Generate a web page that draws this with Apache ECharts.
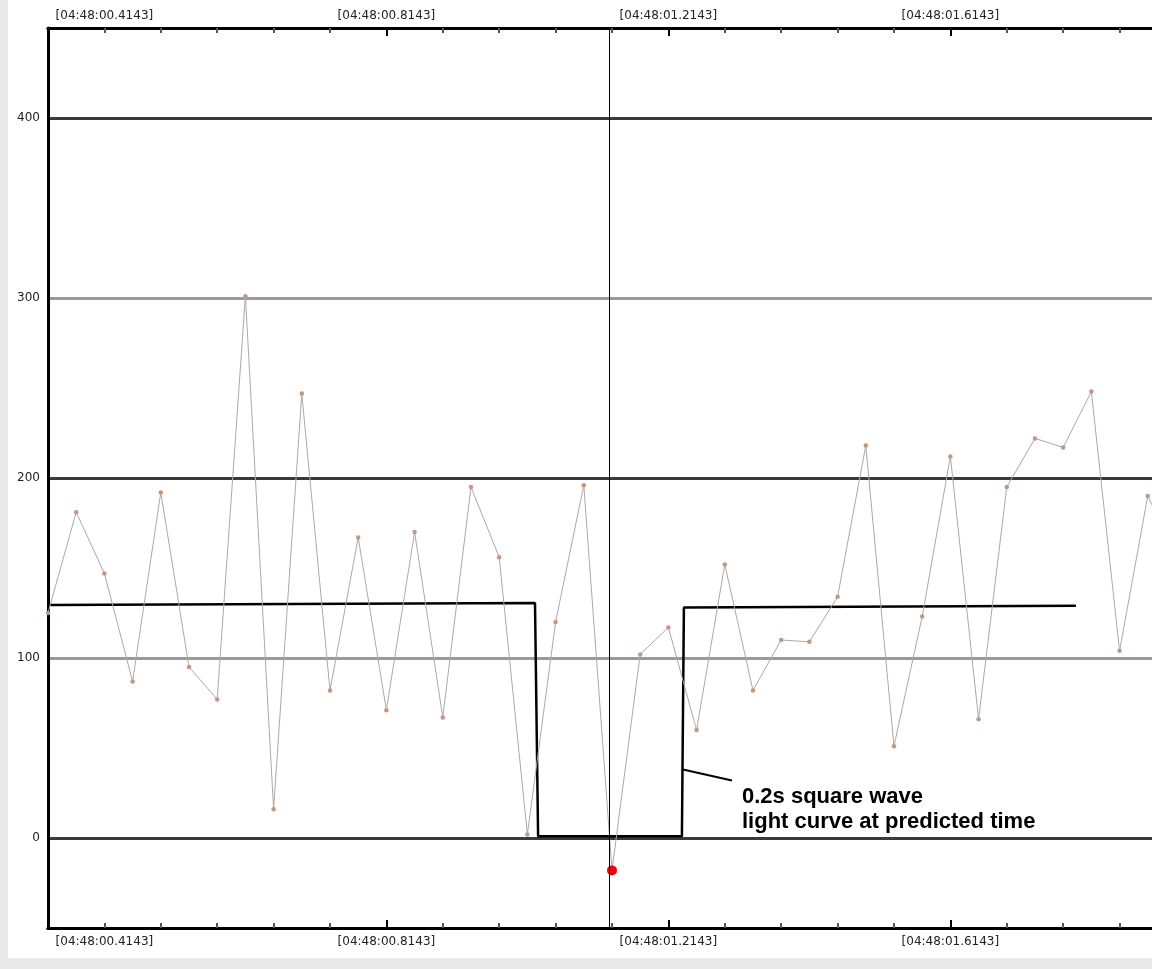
<!DOCTYPE html>
<html>
<head>
<meta charset="utf-8">
<script src="https://cdn.jsdelivr.net/npm/echarts@6/dist/echarts.min.js"></script>
<style>
html,body{margin:0;padding:0;background:#e9e9e9;}
#wrap{position:relative;width:1152px;height:969px;overflow:hidden;background:#e9e9e9;}
#panel{position:absolute;left:8px;top:0;width:1144px;height:958px;background:#ffffff;}
#chart{position:absolute;left:0;top:0;width:1152px;height:969px;}
</style>
</head>
<body>
<div id="wrap"><div id="panel"></div><div id="chart"></div></div>
<script>
// ---- data ----
const timePrefix = '04:48:';
const frameStart = 0.3343;   // seconds after 04:48:00 of the first frame
const frameStep = 0.04;      // frame spacing (s)
const intensity = [125, 181, 147, 87, 192, 95, 77, 301, 16, 247,
                   82, 167, 71, 170, 67, 195, 156, 2, 120, 196,
                   -18, 102, 117, 60, 152, 82, 110, 109, 134, 218,
                   51, 123, 212, 66, 195, 222, 217, 248, 104, 190,
                   157];
const highlightIndex = 20;
const predictedTime = 1.1343;
const squareWaveTimes  = [0.3343, 1.0251, 1.0295, 1.2335, 1.2363, 1.7923];
const squareWaveLevels = [129.5, 130.5, 1, 1, 128, 129];
const minorTickTimes = [0.4143, 0.4943, 0.5743, 0.6543, 0.7343, 0.8943, 0.9743, 1.0543, 1.1343,
                        1.2943, 1.3743, 1.4543, 1.5343, 1.6943, 1.7743, 1.8543];
const majorTickTimes = [0.8143, 1.2143, 1.6143];
const labelTimes = [0.4143, 0.8143, 1.2143, 1.6143];
const yTickValues = [0, 100, 200, 300, 400];
const noteLines = ['0.2s square wave', 'light curve at predicted time'];
const notePointer = [[1.235, 38], [1.3045, 32]];
const noteTextAt = [1.3187, 30];

// ---- chart ----
const xMin = 0.3343, xMax = 1.9003;
function fmtTime(v) {
  return '[' + timePrefix + (v < 10 ? '0' : '') + v.toFixed(4) + ']';
}
function xAxisDef(pos, ticks, len, tickColor, labels, margin) {
  return {
    type: 'value', position: pos, min: xMin, max: xMax, gridIndex: 0,
    axisLine: { show: true, onZero: false, lineStyle: { color: '#000', width: 3 } },
    axisTick: { show: true, inside: true, length: len, customValues: ticks,
                lineStyle: { color: tickColor, width: 2 } },
    axisLabel: { show: !!labels, customValues: labels || ticks, formatter: fmtTime, margin: margin,
                 color: '#222', fontFamily: 'DejaVu Sans', fontSize: 12 },
    splitLine: { show: false }
  };
}

const lineData = intensity.map((v, i) => {
  const t = +(frameStart + i * frameStep).toFixed(4);
  if (i === highlightIndex) {
    return { value: [t, v], symbolSize: 10, itemStyle: { color: '#e30b0b' } };
  }
  return [t, v];
});
const squareData = squareWaveTimes.map((t, i) => [t, squareWaveLevels[i]]);

const chart = echarts.init(document.getElementById('chart'), null, { renderer: 'canvas' });
chart.setOption({
  animation: false,
  backgroundColor: 'transparent',
  grid: { left: 48, top: 28, right: 0, height: 900, containLabel: false },
  xAxis: [
    xAxisDef('bottom', minorTickTimes, 5, '#555', null, 8),
    xAxisDef('bottom', majorTickTimes, 8, '#000', labelTimes, 8),
    xAxisDef('top', minorTickTimes, 5, '#555', null, 6),
    xAxisDef('top', majorTickTimes, 8, '#000', labelTimes, 6)
  ],
  yAxis: {
    type: 'value', min: -50, max: 450, interval: 50, position: 'left',
    axisLine: { show: true, onZero: false, lineStyle: { color: '#000', width: 3 } },
    axisTick: { show: false },
    axisLabel: { formatter: v => yTickValues.includes(v) ? String(v) : '', margin: 8,
                 color: '#222', fontFamily: 'DejaVu Sans', fontSize: 12 },
    splitLine: { show: true, lineStyle: {
      color: ['rgba(0,0,0,0)', '#3a3a3a', 'rgba(0,0,0,0)', '#9a9a9a'], width: 3 } }
  },
  series: [
    {
      type: 'line', xAxisIndex: 0, yAxisIndex: 0, data: squareData,
      symbol: 'none', lineStyle: { color: '#000', width: 2.5 }, z: 3,
      emphasis: { disabled: true }, silent: true
    },
    {
      type: 'line', xAxisIndex: 0, yAxisIndex: 0, data: lineData,
      symbol: 'circle', symbolSize: 4.5, showSymbol: true, showAllSymbol: true,
      lineStyle: { color: '#a9a9a9', width: 1 },
      itemStyle: { color: '#c4977f' },
      emphasis: { disabled: true }, silent: true, z: 4,
      markLine: {
        silent: true, symbol: ['none', 'none'], label: { show: false },
        lineStyle: { color: '#000', width: 1, type: 'solid' },
        emphasis: { disabled: true },
        data: [{ xAxis: predictedTime }]
      }
    }
  ]
});

const p0 = chart.convertToPixel({ xAxisIndex: 0, yAxisIndex: 0 }, notePointer[0]);
const p1 = chart.convertToPixel({ xAxisIndex: 0, yAxisIndex: 0 }, notePointer[1]);
const pt = chart.convertToPixel({ xAxisIndex: 0, yAxisIndex: 0 }, noteTextAt);
chart.setOption({
  graphic: [
    { type: 'line', shape: { x1: p0[0], y1: p0[1], x2: p1[0], y2: p1[1] },
      style: { stroke: '#000', lineWidth: 2 }, z: 10, silent: true },
    { type: 'text', x: pt[0], y: pt[1], z: 10, silent: true,
      style: { text: noteLines.join('\n'), fill: '#000', fontFamily: 'Liberation Sans',
               fontWeight: 'bold', fontSize: 22, lineHeight: 25, verticalAlign: 'top', align: 'left' } }
  ]
});
</script>
</body>
</html>
